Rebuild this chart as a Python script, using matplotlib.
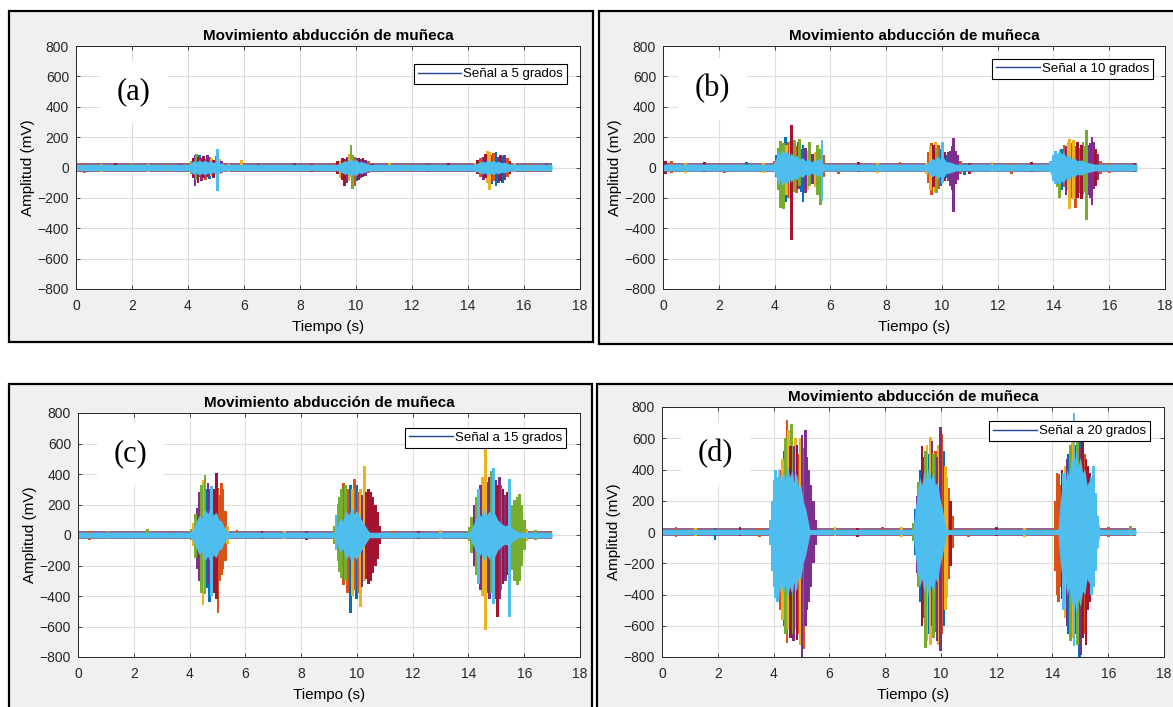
import matplotlib
matplotlib.use("Agg")
import matplotlib.pyplot as plt
from matplotlib.patches import Rectangle
from matplotlib.lines import Line2D

plt.rcParams["font.family"] = ["Liberation Sans", "DejaVu Sans"]

# MATLAB default line colours
COLORS = ["#0072BD", "#D95319", "#EDB120", "#7E2F8E", "#77AC30", "#4DBEEE", "#A2142F"]

TITLE = "Movimiento abducción de muñeca"
PANEL_LABELS = ["(a)", "(b)", "(c)", "(d)"]
LEGEND_TEXT = ["Señal a 5 grados", "Señal a 10 grados", "Señal a 15 grados", "Señal a 20 grados"]
SIGNAL_END = 17.0
NOISE_AMP = [28, 32, 26, 26]

# bursts: (time s, top mV, bottom mV, colour index)
spikes_a = [
    (4.05, 30, -25, 1), (4.12, 45, -40, 4), (4.18, 60, -70, 6), (4.25, 85, -120, 3),
    (4.30, 90, -80, 4), (4.36, 70, -100, 6), (4.42, 80, -60, 0), (4.48, 65, -90, 3),
    (4.55, 75, -70, 6), (4.62, 55, -85, 1), (4.70, 80, -60, 3), (4.78, 70, -75, 0),
    (4.85, 65, -55, 2), (4.92, 50, -70, 6), (5.00, 75, -40, 1), (5.05, 120, -155, 5),
    (5.12, 55, -45, 2), (5.20, 40, -35, 3), (5.30, 30, -25, 1), (5.45, 25, -30, 2),
    (5.90, 50, -15, 2),
    (9.25, 30, -25, 1), (9.35, 40, -40, 6), (9.45, 45, -70, 2), (9.52, 60, -80, 6),
    (9.60, 55, -120, 6), (9.68, 70, -100, 3), (9.75, 90, -90, 2), (9.82, 145, -60, 4),
    (9.88, 80, -140, 4), (9.95, 70, -120, 1), (10.02, 60, -90, 0), (10.10, 65, -80, 6),
    (10.18, 55, -70, 3), (10.25, 60, -60, 6), (10.35, 50, -55, 3), (10.45, 40, -35, 1),
    (10.60, 25, -25, 6),
    (14.25, 30, -25, 2), (14.35, 50, -40, 6), (14.45, 60, -65, 1), (14.55, 70, -80, 3),
    (14.62, 90, -70, 6), (14.70, 110, -100, 2), (14.78, 100, -145, 2), (14.85, 80, -110, 0),
    (14.92, 95, -90, 1), (15.00, 100, -120, 0), (15.08, 70, -100, 3), (15.15, 80, -90, 6),
    (15.22, 75, -100, 0), (15.30, 80, -85, 3), (15.40, 60, -60, 1), (15.50, 45, -40, 6),
    (15.65, 30, -30, 2),
]
spikes_b = [
    (4.00, 40, -30, 1), (4.08, 80, -60, 0), (4.15, 130, -150, 4), (4.20, 175, -265, 4),
    (4.26, 140, -200, 0), (4.32, 160, -275, 4), (4.38, 200, -230, 0), (4.44, 150, -180, 2),
    (4.50, 170, -200, 1), (4.56, 175, -210, 2), (4.60, 280, -480, 6), (4.66, 150, -150, 3),
    (4.72, 180, -160, 4), (4.78, 140, -170, 1), (4.85, 170, -140, 3), (4.90, 190, -120, 4),
    (4.96, 120, -160, 0), (5.02, 150, -225, 0), (5.10, 130, -170, 3), (5.18, 110, -150, 2),
    (5.26, 170, -120, 4), (5.35, 90, -110, 3), (5.45, 100, -130, 2), (5.55, 150, -180, 4),
    (5.64, 120, -245, 4), (5.70, 180, -220, 5), (5.76, 80, -60, 1),
    (9.45, 30, -40, 2), (9.52, 100, -100, 1), (9.58, 140, -150, 2), (9.64, 160, -180, 1),
    (9.70, 150, -130, 6), (9.76, 170, -160, 2), (9.82, 130, -170, 4), (9.88, 150, -140, 1),
    (9.95, 120, -120, 0), (10.02, 170, -100, 5), (10.08, 100, -90, 6), (10.15, 80, -70, 0),
    (10.22, 100, -90, 3), (10.30, 110, -120, 3), (10.38, 140, -150, 3), (10.43, 195, -295, 3),
    (10.50, 110, -110, 3), (10.58, 80, -80, 3), (10.68, 40, -40, 1), (10.80, 20, -50, 0),
    (13.90, 40, -30, 5), (14.00, 80, -90, 5), (14.08, 110, -110, 5), (14.15, 90, -130, 4),
    (14.22, 80, -200, 4), (14.30, 120, -150, 0), (14.38, 150, -130, 1), (14.45, 140, -180, 3),
    (14.52, 170, -150, 2), (14.58, 185, -270, 2), (14.65, 160, -200, 1), (14.72, 180, -210, 2),
    (14.78, 140, -265, 1), (14.85, 170, -200, 6), (14.92, 130, -170, 1), (15.00, 150, -210, 6),
    (15.06, 170, -180, 4), (15.12, 140, -160, 4), (15.18, 245, -345, 4), (15.25, 150, -180, 3),
    (15.32, 160, -200, 3), (15.38, 200, -250, 3), (15.45, 170, -140, 3), (15.52, 120, -120, 6),
    (15.60, 90, -80, 3), (15.70, 40, -40, 1),
]
spikes_c = [
    (4.05, 40, -30, 4), (4.12, 80, -70, 2), (4.20, 140, -150, 4), (4.28, 180, -220, 3),
    (4.35, 280, -300, 3), (4.42, 330, -380, 4), (4.48, 360, -460, 2), (4.55, 395, -390, 4),
    (4.60, 300, -350, 0), (4.66, 340, -320, 3), (4.72, 300, -440, 0), (4.78, 320, -400, 5),
    (4.84, 280, -350, 3), (4.90, 300, -380, 6), (4.96, 405, -420, 6), (5.02, 310, -510, 1),
    (5.08, 260, -300, 1), (5.14, 340, -260, 1), (5.20, 300, -220, 1), (5.28, 160, -170, 1),
    (5.36, 60, -60, 2),
    (9.18, 60, -60, 4), (9.25, 130, -100, 5), (9.32, 200, -170, 4), (9.38, 250, -240, 4),
    (9.45, 300, -280, 4), (9.52, 340, -330, 1), (9.58, 330, -300, 4), (9.65, 300, -380, 1),
    (9.72, 280, -350, 0), (9.78, 330, -510, 0), (9.85, 300, -400, 2), (9.92, 370, -360, 1),
    (9.98, 330, -420, 0), (10.05, 280, -380, 1), (10.12, 300, -470, 2), (10.18, 260, -340, 3),
    (10.27, 455, -300, 2), (10.34, 280, -290, 6), (10.42, 300, -320, 6), (10.50, 280, -300, 6),
    (10.58, 250, -250, 6), (10.66, 200, -200, 6), (10.74, 150, -160, 6), (10.82, 60, -60, 6),
    (14.05, 50, -40, 4), (14.12, 120, -120, 4), (14.20, 200, -200, 3), (14.28, 250, -260, 4),
    (14.35, 300, -320, 5), (14.42, 330, -360, 3), (14.50, 380, -400, 2), (14.60, 570, -620, 2),
    (14.68, 350, -380, 0), (14.75, 380, -420, 3), (14.82, 420, -380, 4), (14.90, 440, -450, 5),
    (14.97, 360, -420, 3), (15.03, 330, -540, 6), (15.10, 380, -420, 3), (15.17, 330, -360, 1),
    (15.24, 300, -320, 6), (15.32, 260, -300, 3), (15.40, 280, -260, 6), (15.46, 370, -540, 5),
    (15.55, 200, -230, 4), (15.65, 230, -300, 4), (15.75, 250, -330, 4), (15.82, 270, -300, 4),
    (15.90, 200, -200, 4), (16.00, 100, -100, 4), (16.10, 40, -40, 2),
]
spikes_d = [
    (3.90, 80, -80, 5), (3.96, 200, -250, 5), (4.02, 330, -350, 5), (4.08, 400, -420, 5),
    (4.14, 350, -450, 5), (4.20, 300, -380, 4), (4.26, 400, -500, 1), (4.32, 470, -560, 2),
    (4.38, 520, -600, 0), (4.44, 600, -650, 4), (4.48, 720, -710, 1), (4.54, 650, -620, 2),
    (4.60, 550, -680, 6), (4.65, 690, -650, 4), (4.72, 550, -700, 3), (4.78, 600, -620, 2),
    (4.84, 560, -690, 6), (4.90, 500, -650, 1), (4.96, 600, -720, 2), (5.02, 620, -800, 3),
    (5.08, 540, -750, 1), (5.14, 650, -600, 3), (5.20, 480, -500, 3), (5.27, 400, -450, 3),
    (5.34, 300, -350, 3), (5.42, 200, -200, 3), (5.50, 80, -80, 3),
    (9.02, 60, -60, 4), (9.08, 150, -150, 0), (9.14, 230, -260, 3), (9.20, 320, -350, 4),
    (9.26, 400, -450, 0), (9.32, 550, -600, 6), (9.38, 480, -550, 3), (9.44, 520, -740, 4),
    (9.50, 560, -700, 2), (9.56, 500, -650, 0), (9.62, 610, -720, 2), (9.68, 580, -600, 3),
    (9.74, 500, -680, 4), (9.80, 520, -640, 1), (9.86, 480, -700, 3), (9.92, 560, -720, 2),
    (9.98, 670, -760, 3), (10.04, 630, -650, 1), (10.10, 520, -600, 0), (10.16, 420, -500, 2),
    (10.22, 350, -420, 2), (10.28, 280, -300, 1), (10.35, 200, -220, 6), (10.42, 100, -100, 1),
    (14.10, 200, -250, 1), (14.16, 380, -400, 1), (14.22, 370, -450, 1), (14.28, 300, -350, 1),
    (14.34, 400, -430, 6), (14.40, 380, -500, 5), (14.46, 420, -550, 2), (14.52, 470, -600, 3),
    (14.58, 500, -650, 0), (14.64, 560, -700, 4), (14.70, 600, -680, 2), (14.77, 760, -730, 5),
    (14.83, 560, -650, 3), (14.90, 590, -720, 4), (14.96, 620, -800, 0), (15.02, 540, -790, 3),
    (15.08, 590, -680, 6), (15.14, 500, -650, 1), (15.20, 470, -720, 6), (15.26, 420, -500, 6),
    (15.32, 380, -450, 6), (15.40, 350, -400, 5), (15.48, 420, -350, 5), (15.56, 250, -250, 5),
    (15.62, 100, -100, 5),
]

# small excursions in the resting signal
baseline_a = [(0.3, 30, -35, 1), (0.9, 25, -30, 2), (1.4, 28, -25, 6), (2.0, 30, -20, 4),
              (2.6, 25, -30, 2), (3.2, 22, -28, 1), (3.7, 25, -25, 3), (6.5, 25, -25, 6),
              (7.1, 22, -30, 1), (7.8, 30, -20, 3), (8.4, 25, -30, 6), (11.2, 28, -25, 2),
              (11.9, 22, -30, 1), (12.6, 25, -28, 3), (13.3, 30, -25, 6), (16.2, 25, -30, 1),
              (16.8, 25, -25, 3)]
baseline_b = [(0.1, 45, -40, 6), (0.3, 40, -35, 1), (0.8, 30, -35, 2), (1.5, 35, -30, 6),
              (2.2, 30, -35, 1), (3.0, 35, -25, 0), (3.6, 30, -35, 2), (6.3, 30, -40, 1),
              (7.0, 35, -30, 6), (7.7, 30, -35, 2), (8.5, 35, -30, 1), (11.0, 30, -40, 6),
              (11.8, 35, -30, 2), (12.5, 30, -45, 1), (13.2, 35, -30, 6), (16.0, 30, -35, 1),
              (16.9, 30, -30, 6)]
baseline_c = [(0.4, 25, -30, 1), (1.1, 28, -25, 4), (2.5, 40, -20, 4), (3.3, 25, -28, 1),
              (5.7, 35, -25, 1), (6.6, 25, -28, 6), (7.4, 28, -25, 2), (8.2, 25, -30, 3),
              (11.3, 28, -25, 1), (12.2, 25, -28, 6), (13.0, 30, -25, 2), (16.4, 30, -30, 4),
              (16.9, 25, -25, 1)]
baseline_d = [(0.5, 30, -30, 1), (1.2, 28, -25, 2), (1.9, 25, -50, 0), (2.8, 30, -28, 6),
              (3.5, 28, -30, 1), (6.2, 30, -25, 2), (7.0, 28, -30, 6), (7.9, 35, -28, 1),
              (8.6, 30, -30, 2), (11.0, 28, -30, 1), (12.0, 30, -25, 6), (13.0, 28, -30, 2),
              (16.0, 35, -30, 1), (16.8, 40, -28, 4)]

# light blue channel envelope (dense core of each burst)
core_t_a = [0, 4.0, 4.1, 4.2, 4.3, 4.4, 4.5, 4.6, 4.7, 4.8, 4.9, 5.0, 5.1, 5.2, 5.3,
            9.3, 9.45, 9.6, 9.7, 9.8, 9.9, 10.0, 10.1, 10.2, 10.35, 10.5,
            14.2, 14.35, 14.5, 14.6, 14.7, 14.8, 14.9, 15.0, 15.1, 15.2, 15.3, 15.45, 15.7, 17.0]
core_amp_a = [20, 20, 30, 45, 35, 50, 38, 48, 35, 45, 32, 40, 28, 30, 20,
              20, 30, 45, 38, 60, 42, 55, 35, 40, 28, 20,
              20, 30, 42, 35, 50, 38, 48, 35, 42, 30, 35, 25, 20, 20]
core_t_b = [0, 3.95, 4.05, 4.12, 4.2, 4.28, 4.36, 4.44, 4.52, 4.6, 4.7, 4.8, 4.9, 5.0, 5.1,
            5.2, 5.3, 5.45, 5.6, 5.7, 5.8,
            9.45, 9.55, 9.65, 9.75, 9.85, 9.95, 10.05, 10.15, 10.3, 10.5,
            13.85, 13.95, 14.05, 14.12, 14.2, 14.28, 14.36, 14.45, 14.55, 14.65, 14.75, 14.85,
            15.0, 15.15, 15.3, 15.5, 17.0]
core_amp_b = [22, 22, 60, 110, 80, 120, 90, 115, 75, 95, 70, 80, 55, 65, 45,
              55, 40, 45, 60, 30, 22,
              22, 45, 60, 50, 75, 55, 70, 40, 35, 22,
              22, 60, 100, 80, 120, 90, 100, 70, 85, 55, 65, 45,
              50, 35, 30, 22, 22]
core_t_c = [0, 4.05, 4.15, 4.25, 4.35, 4.45, 4.55, 4.65, 4.75, 4.85, 4.95, 5.05, 5.15, 5.25, 5.4,
            9.2, 9.3, 9.4, 9.5, 9.6, 9.7, 9.8, 9.9, 10.0, 10.1, 10.2, 10.3, 10.45,
            14.05, 14.15, 14.25, 14.35, 14.45, 14.55, 14.65, 14.75, 14.85, 14.95, 15.05, 15.15,
            15.3, 15.45, 15.6, 15.8, 17.0]
core_amp_c = [18, 18, 50, 90, 130, 110, 170, 140, 180, 130, 150, 100, 90, 50, 18,
              18, 60, 110, 90, 160, 130, 180, 140, 160, 120, 90, 60, 18,
              18, 60, 100, 150, 120, 170, 130, 160, 120, 140, 100, 80,
              60, 70, 40, 18, 18]
core_t_d = [0, 3.87, 3.95, 4.02, 4.1, 4.18, 4.26, 4.34, 4.42, 4.5, 4.58, 4.66, 4.74, 4.82, 4.9,
            4.98, 5.06, 5.15, 5.3,
            9.0, 9.08, 9.16, 9.24, 9.32, 9.4, 9.48, 9.56, 9.64, 9.72, 9.8, 9.88, 9.96, 10.05, 10.2,
            14.2, 14.28, 14.36, 14.44, 14.52, 14.6, 14.68, 14.76, 14.84, 14.92, 15.0, 15.08,
            15.16, 15.24, 15.32, 15.4, 15.5, 15.7, 17.0]
core_amp_d = [16, 16, 200, 380, 300, 420, 320, 400, 330, 420, 350, 400, 320, 380, 280,
              300, 200, 150, 16,
              16, 150, 250, 350, 300, 400, 330, 420, 340, 380, 300, 320, 220, 150, 16,
              16, 200, 320, 280, 400, 350, 480, 400, 520, 420, 480, 380,
              400, 300, 330, 250, 200, 16, 16]

SPIKES = [spikes_a, spikes_b, spikes_c, spikes_d]
BASELINE = [baseline_a, baseline_b, baseline_c, baseline_d]
CORE_T = [core_t_a, core_t_b, core_t_c, core_t_d]
CORE_AMP = [core_amp_a, core_amp_b, core_amp_c, core_amp_d]

W, H = 1173, 707
# pixel boxes (left, right, top, bottom)
AX_BOX = [(76, 580, 46, 289), (663, 1165, 46, 289), (78, 580, 413, 657), (662, 1164, 407, 657)]
FRAME_BOX = [(9, 593, 11, 342), (599, 1185, 11, 344), (9, 592, 384, 712), (597, 1185, 384, 712)]
LEGEND_ANCHOR = [(0.974, 0.925), (0.976, 0.947), (0.972, 0.939), (0.972, 0.944)]
LABEL_POS = [(0.115, 0.81), (0.098, 0.823), (0.104, 0.832), (0.106, 0.812)]
BAR_W = 0.1

fig = plt.figure(figsize=(W / 100, H / 100), dpi=100)

for fx0, fx1, fy0, fy1 in FRAME_BOX:
    fig.patches.append(Rectangle((fx0 / W, 1 - fy1 / H), (fx1 - fx0) / W, (fy1 - fy0) / H,
                                 transform=fig.transFigure, facecolor="#f0f0f0",
                                 edgecolor="black", linewidth=1.6, zorder=-10))

for i in range(4):
    l, r, t, b = AX_BOX[i]
    ax = fig.add_axes([l / W, 1 - b / H, (r - l) / W, (b - t) / H])
    ax.set_facecolor("white")

    # resting noise band (mixed colours at its edge)
    n = NOISE_AMP[i]
    ax.fill_between([0, SIGNAL_END], [-n, -n], [n, n], color="#8c6a8c", lw=0, zorder=1.5)

    rows = BASELINE[i] + SPIKES[i]
    for c in [0, 1, 2, 3, 4, 6, 5]:
        sel = [row for row in rows if row[3] == c]
        if sel:
            ax.bar([row[0] for row in sel], [row[1] - row[2] for row in sel],
                   bottom=[row[2] for row in sel], width=BAR_W, color=COLORS[c],
                   lw=0, zorder=2)

    ct, ca = CORE_T[i], CORE_AMP[i]
    ax.fill_between(ct, [-a for a in ca], ca, color=COLORS[5], lw=0, zorder=3)

    ax.set_xlim(0, 18)
    ax.set_ylim(-800, 800)
    ax.set_xticks(range(0, 19, 2))
    ax.set_yticks(range(-800, 801, 200))
    ax.grid(True, color="#dedede", lw=0.8)
    ax.set_axisbelow(True)
    ax.tick_params(direction="in", top=True, right=True, length=3, width=0.6,
                   colors="#262626", labelsize=10, pad=5)
    ax.tick_params(axis="x", pad=7)
    for s in ax.spines.values():
        s.set_color("#262626")
        s.set_linewidth(0.7)
        s.set_zorder(4)
    ax.set_title(TITLE, fontsize=11, fontweight="bold", pad=4)
    ax.set_xlabel("Tiempo (s)", fontsize=11, labelpad=5)
    ax.set_ylabel("Amplitud (mV)", fontsize=11, labelpad=2)

    handle = Line2D([], [], color="#24419a", lw=1)
    leg = ax.legend([handle], [LEGEND_TEXT[i]], loc="upper right", bbox_to_anchor=LEGEND_ANCHOR[i],
                    fontsize=9.5, fancybox=False, framealpha=1, edgecolor="black",
                    borderpad=0.3, handlelength=3.3, handletextpad=0.15, borderaxespad=0)
    leg.get_frame().set_linewidth(0.8)
    leg.set_zorder(6)

    ax.text(LABEL_POS[i][0], LABEL_POS[i][1], PANEL_LABELS[i], transform=ax.transAxes,
            family="Liberation Serif", fontsize=22, ha="center", va="center", zorder=5,
            bbox=dict(boxstyle="square,pad=0.55", fc="white", ec="none"))

fig.savefig("out.png", dpi=100)
